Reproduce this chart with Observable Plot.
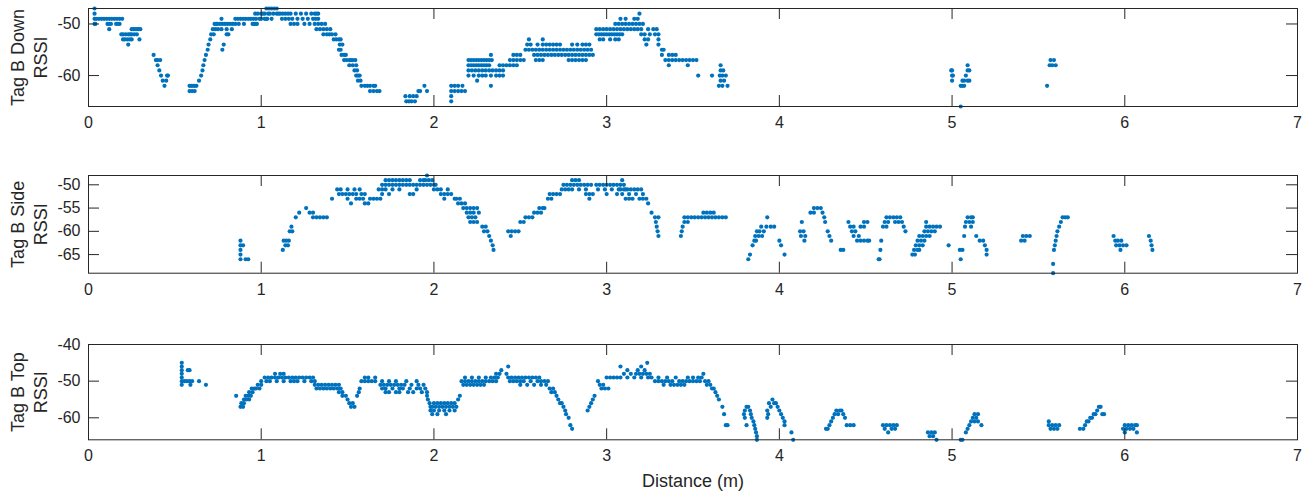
<!DOCTYPE html>
<html>
<head>
<meta charset="utf-8">
<script src="https://cdn.jsdelivr.net/npm/d3@7"></script>
<script src="https://cdn.jsdelivr.net/npm/@observablehq/plot@0.6"></script>
<style>
  html, body { margin: 0; padding: 0; background: #fff; }
  #chart svg { display: block; }
</style>
</head>
<body>
<div id="chart"></div>
<script>
// Distance ticks (m)
const xTicks = [0, 1, 2, 3, 4, 5, 6, 7];

// Each row: [RSSI, distance, distance, ...]
const tagBDownRows = [
  [-47, 0.035, 1.03, 1.045, 1.06, 1.075, 1.09],
  [-48, 0.035, 0.965, 0.98, 1.0, 1.01, 1.02, 1.04, 1.05, 1.07, 1.09, 1.1, 1.11, 1.125, 1.14, 1.155, 1.17, 1.2, 1.23, 1.26, 1.29, 1.31, 1.32, 1.33, 3.19],
  [-49, 0.035, 0.045, 0.06, 0.075, 0.09, 0.105, 0.12, 0.135, 0.15, 0.165, 0.18, 0.195, 0.77, 0.85, 0.865, 0.88, 0.895, 0.91, 0.925, 0.94, 0.955, 0.97, 0.99, 1.0, 1.02, 1.03, 1.035, 1.06, 1.12, 1.14, 1.16, 1.18, 1.21, 1.24, 1.27, 1.3, 1.315, 1.33, 3.08, 3.11, 3.16, 3.18],
  [-50, 0.035, 0.04, 0.11, 0.12, 0.13, 0.16, 0.17, 0.18, 0.73, 0.74, 0.745, 0.76, 0.775, 0.79, 0.805, 0.82, 0.835, 0.85, 0.87, 0.9, 0.95, 0.96, 0.965, 0.975, 1.17, 1.19, 1.21, 1.25, 1.28, 1.31, 1.33, 1.35, 1.37, 3.05, 3.07, 3.09, 3.11, 3.13, 3.15, 3.17, 3.19, 3.21],
  [-51, 0.12, 0.25, 0.26, 0.27, 0.28, 0.29, 0.3, 0.72, 0.735, 0.75, 0.77, 0.8, 0.83, 1.32, 1.34, 1.36, 1.38, 1.4, 2.94, 2.96, 2.98, 3.0, 3.02, 3.04, 3.06, 3.08, 3.1, 3.12, 3.14, 3.16, 3.18, 3.2, 3.24, 3.27, 3.29],
  [-52, 0.19, 0.2, 0.215, 0.23, 0.24, 0.25, 0.265, 0.28, 0.71, 0.725, 0.8, 0.81, 1.36, 1.38, 1.395, 1.41, 1.43, 2.94, 2.955, 2.97, 2.985, 3.0, 3.015, 3.03, 3.045, 3.06, 3.075, 3.09, 3.2, 3.22, 3.25, 3.28, 3.3],
  [-53, 0.2, 0.21, 0.225, 0.24, 0.25, 0.295, 0.705, 1.42, 1.435, 1.45, 1.46, 2.55, 2.63, 2.96, 2.98, 3.02, 3.05, 3.07, 3.22, 3.24, 3.3],
  [-54, 0.23, 0.695, 0.783, 1.455, 1.47, 2.54, 2.56, 2.6, 2.63, 2.65, 2.67, 2.69, 2.71, 2.73, 2.8, 2.83, 2.86, 2.88, 2.9, 3.23, 3.3],
  [-55, 0.69, 0.775, 1.45, 1.46, 2.53, 2.55, 2.57, 2.59, 2.61, 2.63, 2.65, 2.67, 2.69, 2.71, 2.73, 2.75, 2.77, 2.79, 2.81, 2.83, 2.85, 2.87, 2.89, 2.91, 3.32, 3.33],
  [-56, 0.377, 0.68, 1.465, 1.48, 1.49, 2.33, 2.46, 2.48, 2.5, 2.58, 2.6, 2.62, 2.64, 2.66, 2.68, 2.7, 2.72, 2.74, 2.76, 2.78, 2.8, 2.82, 2.84, 2.86, 2.88, 2.9, 2.92, 3.32, 3.36, 3.38, 3.4],
  [-57, 0.39, 0.4, 0.415, 0.672, 1.48, 1.495, 1.51, 1.52, 1.53, 1.545, 2.2, 2.215, 2.23, 2.245, 2.26, 2.275, 2.29, 2.305, 2.32, 2.335, 2.44, 2.46, 2.48, 2.5, 2.52, 2.59, 2.61, 2.63, 2.78, 2.8, 2.82, 2.84, 2.86, 2.88, 3.34, 3.36, 3.38, 3.4, 3.42, 3.44, 3.46, 3.48, 3.5, 3.52, 5.57, 5.59],
  [-58, 0.4, 0.665, 1.51, 1.53, 1.55, 2.2, 2.215, 2.23, 2.245, 2.26, 2.275, 2.29, 2.305, 2.32, 2.38, 2.4, 2.42, 2.44, 2.46, 2.48, 3.36, 3.47, 3.66, 5.09, 5.565, 5.58, 5.6],
  [-59, 0.41, 0.66, 1.54, 1.555, 2.2, 2.22, 2.24, 2.26, 2.28, 2.3, 2.32, 2.34, 2.36, 2.38, 2.4, 3.66, 3.675, 4.995, 5.0, 5.09, 5.1],
  [-60, 0.42, 0.455, 0.46, 0.652, 1.55, 1.56, 1.57, 2.2, 2.23, 2.26, 2.28, 2.3, 2.33, 2.36, 2.38, 2.4, 3.53, 3.61, 3.655, 3.67, 3.69, 5.0, 5.005, 5.08],
  [-61, 0.43, 0.45, 0.64, 1.56, 1.575, 2.25, 3.66, 3.68, 5.0, 5.06, 5.07, 5.09, 5.1],
  [-62, 0.44, 0.585, 0.595, 0.605, 0.615, 0.625, 1.58, 1.6, 1.615, 1.63, 1.65, 1.66, 1.945, 2.1, 2.12, 2.14, 2.165, 2.33, 3.65, 3.67, 3.7, 5.05, 5.06, 5.07, 5.55],
  [-63, 0.585, 0.6, 0.615, 1.63, 1.65, 1.67, 1.685, 1.91, 1.92, 1.96, 2.1, 2.12, 2.14, 2.16, 2.18],
  [-64, 1.835, 1.86, 1.88, 1.9, 2.1],
  [-65, 1.84, 1.855, 1.87, 1.89, 2.1],
  [-66, 5.05]
];

const tagBSideRows = [
  [-48, 1.96],
  [-49, 1.72, 1.74, 1.76, 1.78, 1.8, 1.82, 1.84, 1.86, 1.92, 1.94, 1.95, 1.97, 1.99, 2.8, 2.82, 2.84, 3.09],
  [-50, 1.7, 1.72, 1.74, 1.76, 1.78, 1.8, 1.82, 1.84, 1.86, 1.88, 1.9, 1.92, 1.94, 1.96, 1.98, 2.0, 2.01, 2.75, 2.77, 2.79, 2.81, 2.83, 2.85, 2.87, 2.89, 2.91, 2.94, 2.96, 2.98, 3.0, 3.02, 3.04, 3.06, 3.08, 3.1],
  [-51, 1.44, 1.46, 1.5, 1.54, 1.57, 1.68, 1.7, 1.72, 1.76, 1.8, 1.9, 2.0, 2.02, 2.04, 2.08, 2.74, 2.76, 2.78, 2.8, 2.84, 2.88, 2.95, 2.99, 3.03, 3.07, 3.08, 3.1, 3.11, 3.12, 3.14, 3.16, 3.18, 3.2],
  [-52, 1.45, 1.47, 1.49, 1.51, 1.53, 1.55, 1.58, 1.6, 1.7, 1.74, 1.86, 1.88, 2.04, 2.06, 2.08, 2.1, 2.67, 2.69, 2.71, 2.73, 2.88, 2.9, 2.92, 3.0, 3.06, 3.09, 3.13, 3.17, 3.21],
  [-53, 1.41, 1.5, 1.55, 1.57, 1.59, 1.63, 1.65, 1.67, 1.69, 2.06, 2.12, 2.13, 2.15, 2.66, 2.68, 2.9, 3.11, 3.13, 3.15, 3.19, 3.21, 3.23],
  [-54, 1.52, 1.6, 1.62, 2.14, 2.16, 2.18, 3.24],
  [-55, 1.26, 2.17, 2.19, 2.21, 2.23, 2.25, 2.61, 2.63, 2.64, 4.2, 4.22, 4.24],
  [-56, 1.22, 1.28, 1.3, 2.19, 2.21, 2.23, 2.26, 2.58, 2.6, 2.62, 3.26, 3.56, 3.58, 3.6, 3.62, 4.18, 4.2, 4.25],
  [-57, 1.2, 1.3, 1.32, 1.34, 1.36, 1.38, 2.2, 2.22, 2.24, 2.53, 2.55, 2.57, 3.28, 3.3, 3.45, 3.47, 3.49, 3.51, 3.53, 3.55, 3.57, 3.59, 3.61, 3.63, 3.65, 3.67, 3.69, 3.93, 4.26, 4.62, 4.64, 4.66, 4.68, 4.7, 5.09, 5.11, 5.12, 5.64, 5.655, 5.67],
  [-58, 2.21, 2.23, 2.25, 2.5, 2.52, 3.285, 3.45, 3.47, 4.13, 4.265, 4.4, 4.49, 4.51, 4.61, 4.63, 4.67, 4.69, 4.71, 4.85, 5.08, 5.1, 5.12, 5.63],
  [-59, 1.175, 2.28, 2.3, 3.29, 3.44, 3.895, 3.925, 3.95, 3.97, 4.41, 4.43, 4.47, 4.49, 4.6, 4.62, 4.72, 4.85, 4.87, 4.89, 4.91, 4.93, 5.075, 5.11, 5.62],
  [-60, 1.165, 1.18, 2.29, 2.31, 2.43, 2.45, 2.47, 2.49, 3.295, 3.435, 3.87, 3.885, 3.91, 4.12, 4.14, 4.28, 4.42, 4.44, 4.73, 4.84, 4.86, 4.88, 4.9, 5.61],
  [-61, 2.32, 2.445, 3.3, 3.43, 3.86, 3.88, 3.9, 4.125, 4.15, 4.29, 4.43, 4.46, 4.81, 4.83, 4.85, 4.87, 5.07, 5.14, 5.41, 5.43, 5.45, 5.605, 5.935, 6.14],
  [-62, 0.88, 1.13, 1.145, 1.16, 2.33, 3.855, 3.865, 4.0, 4.145, 4.3, 4.45, 4.47, 4.49, 4.51, 4.52, 4.59, 4.8, 4.82, 4.84, 5.16, 5.18, 5.4, 5.42, 5.6, 5.945, 5.96, 5.98, 6.15],
  [-63, 0.88, 0.895, 1.14, 1.155, 2.34, 3.845, 4.01, 4.79, 4.81, 4.83, 4.98, 5.19, 5.595, 5.95, 5.97, 5.99, 6.01, 6.155],
  [-64, 0.88, 1.125, 2.345, 4.355, 4.37, 4.585, 4.78, 4.8, 4.81, 5.045, 5.06, 5.2, 5.59, 5.975, 6.16],
  [-65, 0.88, 3.83, 4.03, 4.77, 4.785, 5.2],
  [-66, 0.88, 0.91, 0.925, 3.82, 4.575, 4.58, 5.05],
  [-67, 5.585],
  [-69, 5.585]
];

const tagBTopRows = [
  [-45, 0.54, 3.235],
  [-46, 0.54, 2.43, 3.08, 3.2],
  [-47, 0.54, 0.575, 0.585, 2.39, 3.12, 3.18, 3.22],
  [-48, 0.54, 1.08, 1.11, 1.13, 2.36, 2.38, 2.42, 3.1, 3.14, 3.17, 3.19, 3.21, 3.23, 3.25, 3.56],
  [-49, 0.54, 1.02, 1.04, 1.06, 1.08, 1.1, 1.12, 1.14, 1.16, 1.18, 1.2, 1.22, 1.24, 1.26, 1.28, 1.3, 1.6, 1.62, 1.66, 2.18, 2.22, 2.26, 2.3, 2.33, 2.35, 2.37, 2.43, 2.45, 2.47, 2.49, 2.51, 2.53, 2.55, 2.57, 2.59, 2.61, 3.0, 3.02, 3.04, 3.06, 3.08, 3.12, 3.16, 3.2, 3.24, 3.26, 3.3, 3.35, 3.4, 3.47, 3.5, 3.53, 3.55],
  [-50, 0.54, 0.555, 0.57, 0.585, 0.6, 0.64, 1.0, 1.03, 1.05, 1.09, 1.13, 1.17, 1.19, 1.21, 1.25, 1.29, 1.31, 1.58, 1.6, 1.62, 1.64, 1.66, 1.7, 1.74, 1.78, 1.84, 1.9, 2.16, 2.18, 2.2, 2.22, 2.24, 2.26, 2.28, 2.3, 2.32, 2.34, 2.36, 2.44, 2.46, 2.48, 2.5, 2.52, 2.56, 2.6, 2.62, 2.64, 2.66, 2.95, 3.28, 3.3, 3.32, 3.34, 3.36, 3.38, 3.42, 3.44, 3.46, 3.48, 3.5, 3.52, 3.54, 3.57, 3.59],
  [-51, 0.54, 0.59, 0.68, 0.98, 1.0, 1.31, 1.33, 1.35, 1.37, 1.39, 1.41, 1.43, 1.45, 1.69, 1.71, 1.73, 1.75, 1.77, 1.79, 1.81, 1.83, 1.87, 1.91, 1.94, 2.17, 2.19, 2.21, 2.23, 2.25, 2.27, 2.29, 2.5, 2.54, 2.58, 2.62, 2.65, 2.96, 2.98, 3.33, 3.37, 3.39, 3.41, 3.43, 3.45, 3.58, 3.6],
  [-52, 0.945, 0.96, 0.97, 0.99, 1.32, 1.34, 1.36, 1.38, 1.4, 1.42, 1.44, 1.46, 1.57, 1.7, 1.72, 1.76, 1.8, 1.82, 1.86, 1.9, 1.92, 1.95, 2.67, 2.69, 2.97, 2.99, 3.01, 3.61, 3.62],
  [-53, 0.93, 0.95, 1.45, 1.47, 1.565, 1.72, 1.74, 1.78, 1.8, 1.85, 1.88, 1.93, 1.96, 2.68, 2.7, 3.63],
  [-54, 0.855, 0.91, 0.925, 0.94, 1.47, 1.49, 1.555, 1.96, 2.15, 2.71, 2.93, 3.64],
  [-55, 0.9, 0.915, 0.93, 1.5, 1.965, 2.14, 2.72, 2.92, 3.65, 3.96],
  [-56, 0.885, 0.9, 1.51, 1.53, 1.975, 2.0, 2.02, 2.04, 2.06, 2.08, 2.1, 2.12, 2.73, 2.74, 2.91, 3.94, 3.97, 3.98],
  [-57, 0.88, 0.895, 1.52, 1.54, 1.98, 1.99, 2.01, 2.03, 2.05, 2.07, 2.09, 2.11, 2.13, 2.75, 2.9, 3.67, 3.81, 3.82, 3.95, 3.99, 5.85, 5.86],
  [-58, 1.98, 2.0, 2.03, 2.06, 2.09, 2.12, 2.76, 2.89, 3.8, 3.83, 3.93, 4.0, 4.33, 4.35, 4.36, 5.84],
  [-59, 1.99, 2.02, 2.07, 2.765, 3.68, 3.795, 3.835, 3.935, 4.01, 4.32, 4.34, 4.37, 5.13, 5.15, 5.82, 5.83, 5.87, 5.88],
  [-60, 2.78, 3.8, 3.84, 3.93, 4.02, 4.31, 4.38, 5.12, 5.14, 5.8, 5.81],
  [-61, 3.85, 4.03, 4.3, 5.11, 5.13, 5.15, 5.56, 5.78, 5.79],
  [-62, 2.79, 3.69, 3.7, 3.81, 3.855, 4.03, 4.29, 4.39, 4.41, 4.43, 4.6, 4.62, 4.64, 4.66, 4.68, 5.1, 5.17, 5.56, 5.58, 5.6, 5.62, 5.77, 6.0, 6.02, 6.04, 6.06, 6.07],
  [-63, 2.8, 3.86, 4.27, 4.28, 4.61, 4.65, 4.67, 5.09, 5.57, 5.59, 5.61, 5.74, 5.76, 5.99, 6.01, 6.03, 6.05],
  [-64, 3.865, 4.07, 4.63, 4.86, 4.88, 4.9, 5.08, 6.0, 6.07],
  [-65, 3.87, 4.87, 4.89],
  [-66, 3.87, 4.08, 4.91, 5.05, 5.06]
];

const yLimits = { down: [-66, -47], side: [-69, -48], top: [-66, -40] };
const yTicks = { down: [-60, -50], side: [-65, -60, -55, -50], top: [-60, -50, -40] };
const yLabels = { down: "Tag B Down\nRSSI", side: "Tag B Side\nRSSI", top: "Tag B Top\nRSSI" };
const xLabel = "Distance (m)";

const toPoints = rows => rows.flatMap(([rssi, ...ds]) => ds.map(d => ({ d, rssi })));

const W = 1313, ML = 88, MR = 16, TICK = 11;
const axisColor = "#262626";
const font = "'Liberation Sans', Arial, Helvetica, sans-serif";

function panel(rows, key, layout, withXLabel) {
  const { height, marginTop, marginBottom } = layout;
  const ph = height - marginTop - marginBottom;
  const pw = W - ML - MR;
  const marks = [
    Plot.dot(toPoints(rows), { x: "d", y: "rssi", r: 2.1, fill: "#0072BD", stroke: "none" }),
    Plot.frame({ stroke: axisColor, strokeWidth: 1 }),
    Plot.tickX(xTicks, { x: d => d, insetTop: ph - TICK, stroke: axisColor }),
    Plot.tickX(xTicks, { x: d => d, insetBottom: ph - TICK, stroke: axisColor }),
    Plot.tickY(yTicks[key], { y: d => d, insetRight: pw - TICK, stroke: axisColor }),
    Plot.tickY(yTicks[key], { y: d => d, insetLeft: pw - TICK, stroke: axisColor }),
    Plot.axisX({ ticks: xTicks, tickSize: 0, tickPadding: 10, label: null, fontSize: 16, fill: axisColor, tickFormat: d3.format("d") }),
    Plot.axisY({ ticks: yTicks[key], tickSize: 0, tickPadding: 8, label: null, fontSize: 16, fill: axisColor, tickFormat: d => String(d) }),
    Plot.text([yLabels[key]], {
      text: d => d, frameAnchor: "left", rotate: -90, dx: -60,
      textAnchor: "middle", lineAnchor: "middle", lineHeight: 1.27,
      fontSize: 18, fill: axisColor
    })
  ];
  if (withXLabel) {
    marks.push(Plot.text([xLabel], {
      text: d => d, frameAnchor: "bottom", dy: 41, lineAnchor: "middle",
      fontSize: 18, fill: axisColor
    }));
  }
  return Plot.plot({
    width: W, height, marginTop, marginBottom, marginLeft: ML, marginRight: MR,
    x: { domain: [0, 7] },
    y: { domain: yLimits[key] },
    style: { fontFamily: font, background: "#fff", color: axisColor, overflow: "visible" },
    marks
  });
}

const root = document.getElementById("chart");
root.append(panel(tagBDownRows, "down", { height: 165, marginTop: 8, marginBottom: 59 }, false));
root.append(panel(tagBSideRows, "side", { height: 165, marginTop: 10, marginBottom: 57.3 }, false));
root.append(panel(tagBTopRows, "top", { height: 167, marginTop: 14, marginBottom: 57.7 }, true));
</script>
</body>
</html>
